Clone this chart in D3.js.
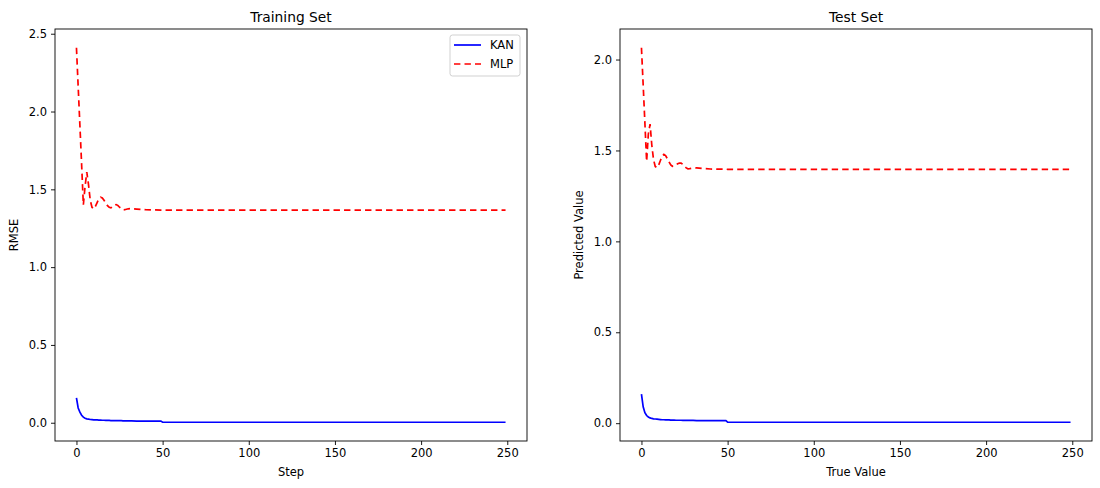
<!DOCTYPE html>
<html>
<head>
<meta charset="utf-8">
<script src="https://cdn.jsdelivr.net/npm/d3@7"></script>
<style>
  body { margin: 0; background: #fff; }
  svg { display: block; font-family: 'DejaVu Sans', sans-serif; }
</style>
</head>
<body>
<div id="chart"></div>
<script>
const steps = [0, 1, 2, 3, 4, 5, 6, 7, 8, 9, 10, 11, 12, 13, 14, 15, 16, 17, 18, 19, 20,
  21, 22, 23, 24, 25, 26, 27, 28, 29, 30, 32, 35, 40, 45, 49, 50, 75, 100, 150, 200, 249];

const trainKAN = [0.16, 0.095, 0.068, 0.048, 0.036, 0.029, 0.025, 0.023, 0.021, 0.020, 0.019,
  0.018, 0.018, 0.017, 0.017, 0.016, 0.016, 0.015, 0.015, 0.015, 0.014,
  0.014, 0.014, 0.013, 0.013, 0.013, 0.013, 0.012, 0.012, 0.012, 0.012,
  0.012, 0.011, 0.011, 0.011, 0.011, 0.004, 0.003, 0.003, 0.003, 0.003, 0.003];

const trainMLP = [2.41, 2.16, 1.91, 1.66, 1.40, 1.52, 1.61, 1.53, 1.43, 1.385, 1.374,
  1.39, 1.415, 1.44, 1.449, 1.445, 1.43, 1.41, 1.395, 1.385, 1.381,
  1.39, 1.40, 1.402, 1.397, 1.385, 1.374, 1.368, 1.369, 1.372, 1.375,
  1.376, 1.373, 1.369, 1.368, 1.367, 1.367, 1.366, 1.366, 1.366, 1.366, 1.366];

const testKAN = [0.16, 0.09, 0.058, 0.042, 0.034, 0.029, 0.026, 0.024, 0.023, 0.022, 0.021,
  0.020, 0.019, 0.019, 0.018, 0.018, 0.018, 0.017, 0.017, 0.017, 0.016,
  0.016, 0.016, 0.016, 0.015, 0.015, 0.015, 0.015, 0.015, 0.015, 0.015,
  0.014, 0.014, 0.014, 0.014, 0.014, 0.006, 0.005, 0.005, 0.005, 0.005, 0.005];

const testMLP = [2.065, 1.86, 1.65, 1.44, 1.59, 1.645, 1.53, 1.45, 1.412, 1.405, 1.42,
  1.445, 1.468, 1.478, 1.472, 1.455, 1.437, 1.42, 1.413, 1.414, 1.42,
  1.427, 1.43, 1.43, 1.424, 1.413, 1.404, 1.399, 1.400, 1.402, 1.403,
  1.404, 1.401, 1.398, 1.397, 1.397, 1.396, 1.396, 1.396, 1.396, 1.396, 1.396];

const xTicks = [0, 50, 100, 150, 200, 250];
const trainYTicks = [0.0, 0.5, 1.0, 1.5, 2.0, 2.5];
const testYTicks = [0.0, 0.5, 1.0, 1.5, 2.0];
const seriesNames = ['KAN', 'MLP'];
const seriesColors = ['#0000ff', '#ff0000'];
const seriesDash = [null, '6.4,4.1'];

const width = 1100;
const height = 488;
const plotTop = 29;
const plotBottom = 441;

const panels = [
  { title: 'Training Set', xLabel: 'Step', yLabel: 'RMSE', left: 55, right: 527,
    series: [trainKAN, trainMLP], yTicks: trainYTicks },
  { title: 'Test Set', xLabel: 'True Value', yLabel: 'Predicted Value', left: 620, right: 1092,
    series: [testKAN, testMLP], yTicks: testYTicks },
];

const svg = d3.select('#chart')
  .append('svg')
  .attr('width', width)
  .attr('height', height);

// matplotlib-style 5% margins around the data
const padded = (lo, hi) => {
  const m = (hi - lo) * 0.05;
  return [lo - m, hi + m];
};

panels.forEach((p, pi) => {
  const xs = d3.scaleLinear()
    .domain(padded(d3.min(steps), d3.max(steps)))
    .range([p.left, p.right]);
  const allY = p.series.flat();
  const ys = d3.scaleLinear()
    .domain(padded(d3.min(allY), d3.max(allY)))
    .range([plotBottom, plotTop]);

  const g = svg.append('g');

  const line = d3.line()
    .x((d, i) => xs(steps[i]))
    .y((d) => ys(d));

  const clipId = `clip${pi}`;
  g.append('clipPath').attr('id', clipId)
    .append('rect')
    .attr('x', p.left).attr('y', plotTop)
    .attr('width', p.right - p.left).attr('height', plotBottom - plotTop);

  g.append('g')
    .attr('clip-path', `url(#${clipId})`)
    .selectAll('path')
    .data(p.series)
    .join('path')
    .attr('d', line)
    .attr('fill', 'none')
    .attr('stroke', (d, i) => seriesColors[i])
    .attr('stroke-width', 1.7)
    .attr('stroke-dasharray', (d, i) => seriesDash[i]);

  const xAxis = g.append('g')
    .attr('transform', `translate(0,${plotBottom})`)
    .call(d3.axisBottom(xs).tickValues(xTicks).tickSize(4).tickPadding(4).tickSizeOuter(0));
  const yAxis = g.append('g')
    .attr('transform', `translate(${p.left},0)`)
    .call(d3.axisLeft(ys).tickValues(p.yTicks).tickFormat(d3.format('.1f'))
      .tickSize(4).tickPadding(4).tickSizeOuter(0));
  [xAxis, yAxis].forEach((a) => {
    a.select('.domain').remove();
    a.selectAll('line').attr('stroke', '#000').attr('stroke-width', 0.9);
    a.selectAll('text')
      .attr('font-family', 'DejaVu Sans')
      .attr('font-size', 11.5)
      .attr('fill', '#000');
  });

  g.append('rect')
    .attr('x', p.left).attr('y', plotTop)
    .attr('width', p.right - p.left).attr('height', plotBottom - plotTop)
    .attr('fill', 'none')
    .attr('stroke', '#000')
    .attr('stroke-width', 0.9);

  const cx = (p.left + p.right) / 2;
  g.append('text')
    .attr('x', cx).attr('y', plotTop - 7)
    .attr('text-anchor', 'middle')
    .attr('font-size', 13.8)
    .text(p.title);
  g.append('text')
    .attr('x', cx).attr('y', 476)
    .attr('text-anchor', 'middle')
    .attr('font-size', 11.5)
    .text(p.xLabel);
  g.append('text')
    .attr('transform', `translate(${p.left - 37},${(plotTop + plotBottom) / 2}) rotate(-90)`)
    .attr('text-anchor', 'middle')
    .attr('font-size', 11.5)
    .text(p.yLabel);

  if (pi === 0) {
    const lg = g.append('g').attr('transform', `translate(${p.right - 77},${plotTop + 6})`);
    lg.append('rect')
      .attr('width', 70).attr('height', 41).attr('rx', 2.5)
      .attr('fill', '#fff').attr('fill-opacity', 0.8)
      .attr('stroke', '#cccccc').attr('stroke-width', 0.9);
    const item = lg.selectAll('g.item')
      .data(seriesNames)
      .join('g')
      .attr('class', 'item')
      .attr('transform', (d, i) => `translate(0,${10 + i * 19})`);
    item.append('line')
      .attr('x1', 4).attr('x2', 31)
      .attr('stroke', (d, i) => seriesColors[i])
      .attr('stroke-width', 1.7)
      .attr('stroke-dasharray', (d, i) => seriesDash[i]);
    item.append('text')
      .attr('x', 40).attr('dy', '0.35em')
      .attr('font-size', 11.5)
      .text((d) => d);
  }
});
</script>
</body>
</html>
